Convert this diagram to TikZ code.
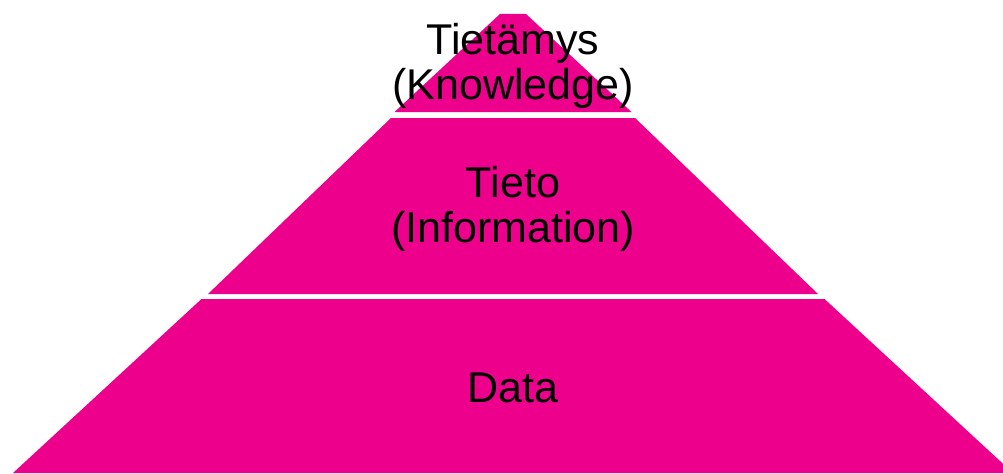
\documentclass[tikz,border=0pt]{standalone}
\usepackage{fontspec}
\setmainfont{Liberation Sans}
\definecolor{pyramidpink}{RGB}{236,0,140}
\tikzset{
	tier/.style={fill=pyramidpink},
	tierlabel/.style={font=\fontsize{24.5}{25.5}\selectfont, align=center, text=black, inner sep=0pt},
}
\begin{document}
\begin{tikzpicture}[x=0.02cm,y=-0.02cm]
	\useasboundingbox (0,0) rectangle (1003,473);
	% pyramid tiers
	\fill [tier] (500,14) -- (526,14) -- (631.5,112) -- (394.5,112) -- cycle;
	\fill [tier] (391,118) -- (635,118) -- (818,294) -- (208,294) -- cycle;
	\fill [tier] (201.5,299) -- (824.5,299) -- (1013,473) -- (13,473) -- cycle;
	% labels
	\node [tierlabel] (knowledge) at (513,66) {Tietämys\\(Knowledge)};
	\node [tierlabel] (information) at (513,209) {Tieto\\(Information)};
	\node [tierlabel, anchor=base] (data) at (513,402) {Data};
\end{tikzpicture}
\end{document}
